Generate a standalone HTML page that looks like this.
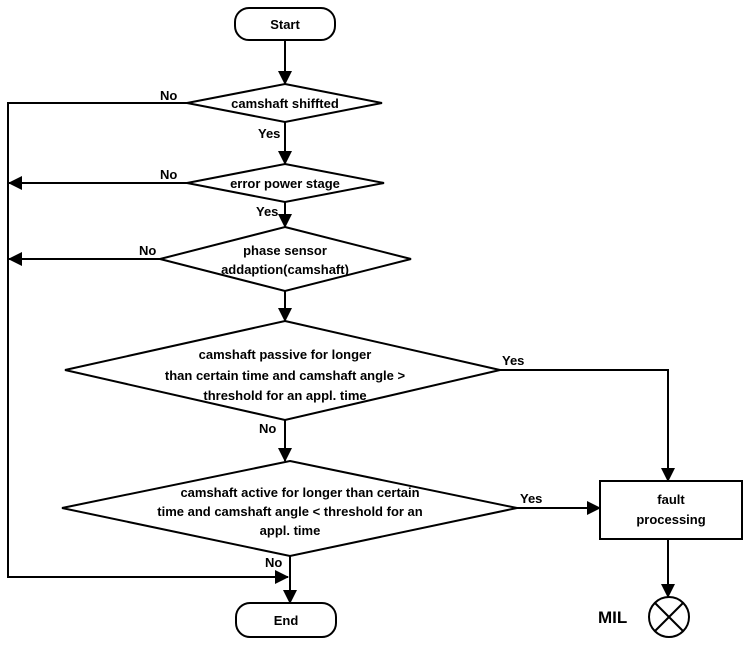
<!DOCTYPE html>
<html><head><style>body{margin:0;background:#fff}svg{display:block}</style></head><body>
<svg width="752" height="648" viewBox="0 0 752 648" xmlns="http://www.w3.org/2000/svg" font-family="Liberation Sans, Arial, sans-serif" font-weight="bold" font-size="13">
<defs><marker id="a" markerWidth="10" markerHeight="10" refX="9" refY="5" orient="auto" markerUnits="userSpaceOnUse"><path d="M0,0 L10,5 L0,10 z" fill="#000"/></marker>
<marker id="b" markerWidth="14" markerHeight="14" refX="13" refY="7" orient="auto" markerUnits="userSpaceOnUse"><path d="M0,0 L14,7 L0,14 z" fill="#000"/></marker></defs>
<g stroke="#000" stroke-width="2" fill="none">
<rect x="235" y="8" width="100" height="32" rx="14" fill="#fff"/>
<line x1="285" y1="40" x2="285" y2="84" marker-end="url(#b)"/>
<polygon points="285,84 382,103 285,122 187,103" fill="#fff"/>
<polyline points="187,103 8,103 8,577 288,577" marker-end="url(#b)"/>
<line x1="285" y1="122" x2="285" y2="164" marker-end="url(#b)"/>
<polygon points="285,164 384,183 285,202 187,183" fill="#fff"/>
<line x1="187" y1="183" x2="9" y2="183" marker-end="url(#b)"/>
<line x1="285" y1="202" x2="285" y2="227" marker-end="url(#b)"/>
<polygon points="285,227 411,259 285,291 160,259" fill="#fff"/>
<line x1="160" y1="259" x2="9" y2="259" marker-end="url(#b)"/>
<line x1="285" y1="291" x2="285" y2="321" marker-end="url(#b)"/>
<polygon points="285,321 500,370 285,420 65,370" fill="#fff"/>
<polyline points="500,370 668,370 668,481" marker-end="url(#b)"/>
<line x1="285" y1="420" x2="285" y2="461" marker-end="url(#b)"/>
<polygon points="290,461 517,508 290,556 62,508" fill="#fff"/>
<line x1="517" y1="508" x2="600" y2="508" marker-end="url(#b)"/>
<line x1="290" y1="556" x2="290" y2="603" marker-end="url(#b)"/>
<rect x="600" y="481" width="142" height="58" fill="#fff"/>
<line x1="668" y1="539" x2="668" y2="597" marker-end="url(#b)"/>
<ellipse cx="669" cy="617" rx="20" ry="20"/>
<line x1="655" y1="603" x2="683" y2="631"/><line x1="683" y1="603" x2="655" y2="631"/>
<rect x="236" y="603" width="100" height="34" rx="14" fill="#fff"/>
</g>
<g text-anchor="middle">
<text x="285" y="29">Start</text>
<text x="285" y="108">camshaft shiffted</text>
<text x="285" y="188">error power stage</text>
<text x="285" y="255">phase sensor</text>
<text x="285" y="274">addaption(camshaft)</text>
<text x="285" y="359">camshaft passive  for longer</text>
<text x="285" y="380">than certain time and camshaft angle &gt;</text>
<text x="285" y="400">threshold for an appl. time</text>
<text x="300" y="497">camshaft active for longer than certain</text>
<text x="290" y="516">time and camshaft angle &lt; threshold  for an</text>
<text x="290" y="535">appl. time</text>
<text x="671" y="504">fault</text>
<text x="671" y="524">processing</text>
<text x="286" y="625">End</text>
</g>
<text x="160" y="100">No</text><text x="258" y="138">Yes</text>
<text x="160" y="179">No</text><text x="256" y="216">Yes</text>
<text x="139" y="255">No</text>
<text x="502" y="365">Yes</text>
<text x="259" y="433">No</text>
<text x="520" y="503">Yes</text>
<text x="265" y="567">No</text>
<text x="598" y="623" font-size="17">MIL</text>
</svg>
</body></html>
